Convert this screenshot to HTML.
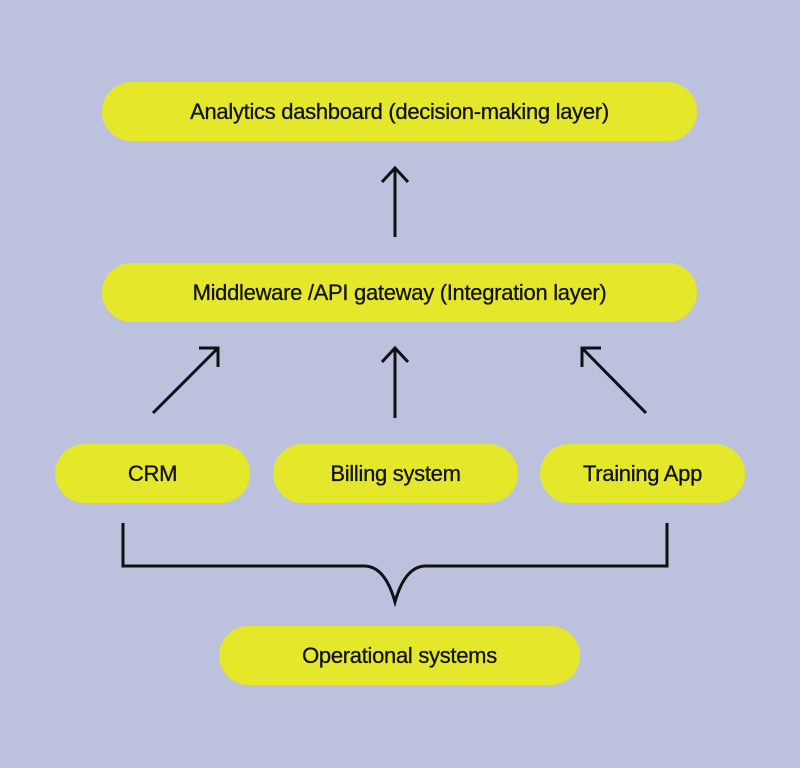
<!DOCTYPE html>
<html><head><style>
body{margin:0;width:800px;height:768px;background:#bcc2de;position:relative;overflow:hidden;font-family:"Liberation Sans",sans-serif}
.p{position:absolute;background:#e5e82a;border-radius:30px;display:flex;align-items:center;justify-content:center;font-size:22px;color:#111;letter-spacing:-0.3px;-webkit-text-stroke:0.3px #111}
svg{position:absolute;left:0;top:0}
</style></head><body>
<div class="p" style="left:102px;top:82px;width:595px;height:59px">Analytics dashboard (decision-making layer)</div>
<div class="p" style="left:102px;top:263px;width:595px;height:59px">Middleware /API gateway (Integration layer)</div>
<div class="p" style="left:55px;top:444px;width:195px;height:59px">CRM</div>
<div class="p" style="left:273px;top:444px;width:245px;height:59px">Billing system</div>
<div class="p" style="left:540px;top:444px;width:205px;height:59px">Training App</div>
<div class="p" style="left:219px;top:626px;width:361px;height:59px">Operational systems</div>
<svg width="800" height="768" fill="none" stroke="#111" stroke-width="3">
<path d="M395 237V168M382 182L395 168L408 182"/>
<path d="M395 418V348M382 362L395 348L408 362"/>
<path d="M153 413L218 348M199 348H218V367"/>
<path d="M646 413L582 348M601 348H582V367"/>
<path d="M123 523V566H364Q385 566 395 602Q405 566 426 566H667V523"/>
</svg>
</body></html>
